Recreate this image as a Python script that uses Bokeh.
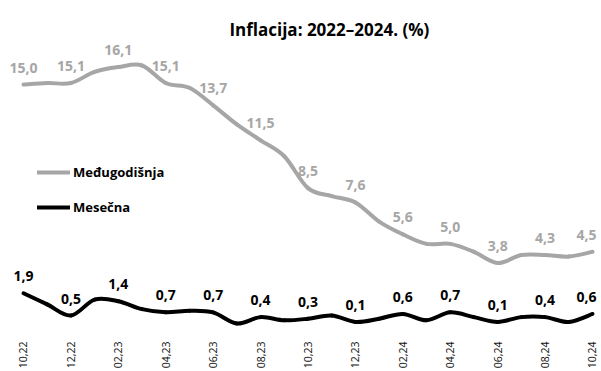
import math

from bokeh.embed import file_html
from bokeh.models import ColumnDataSource, FixedTicker, Label, Legend, LegendItem, Range1d
from bokeh.plotting import figure
from bokeh.resources import INLINE

# Monthly periods (mm,yy)
months = ["10,22", "11,22", "12,22", "01,23", "02,23", "03,23", "04,23", "05,23",
          "06,23", "07,23", "08,23", "09,23", "10,23", "11,23", "12,23", "01,24",
          "02,24", "03,24", "04,24", "05,24", "06,24", "07,24", "08,24", "09,24",
          "10,24"]

# Year-over-year inflation, %
yoy = [15.0, 15.1, 15.1, 15.8, 16.1, 16.2, 15.1, 14.8, 13.7, 12.5, 11.5, 10.5,
       8.5, 8.0, 7.6, 6.4, 5.6, 5.0, 5.0, 4.5, 3.8, 4.3, 4.3, 4.2, 4.5]

# Month-over-month inflation, %
mom = [1.9, 1.2, 0.5, 1.5, 1.4, 0.9, 0.7, 0.8, 0.7, 0.0, 0.4, 0.2,
       0.3, 0.5, 0.1, 0.3, 0.6, 0.2, 0.7, 0.4, 0.1, 0.4, 0.4, 0.1, 0.6]

series_names = ["Međugodišnja", "Mesečna"]
title_text = "Inflacija: 2022–2024. (%)"

GRAY = "#a6a6a6"
BLACK = "#000000"
FONT = "Open Sans"

xs = list(range(len(months)))


def smooth_segments(x, y):
    """Catmull-Rom style cubic Bezier segments passing through every point."""
    n = len(x)
    seg = dict(x0=[], y0=[], x1=[], y1=[], cx0=[], cy0=[], cx1=[], cy1=[])
    for i in range(n - 1):
        a = max(i - 1, 0)
        d = min(i + 2, n - 1)
        seg["x0"].append(x[i])
        seg["y0"].append(y[i])
        seg["x1"].append(x[i + 1])
        seg["y1"].append(y[i + 1])
        seg["cx0"].append(x[i] + (x[i + 1] - x[a]) / 6)
        seg["cy0"].append(y[i] + (y[i + 1] - y[a]) / 6)
        seg["cx1"].append(x[i + 1] - (x[d] - x[i]) / 6)
        seg["cy1"].append(y[i + 1] - (y[d] - y[i]) / 6)
    return ColumnDataSource(seg)


p = figure(width=601, height=371, output_backend="svg", toolbar_location=None,
           x_range=Range1d(-0.97, 24.38), y_range=Range1d(-0.44, 20.28),
           min_border_left=0, min_border_right=0, min_border_top=0,
           min_border_bottom=41)
p.outline_line_color = None
p.grid.visible = False
p.yaxis.visible = False
p.background_fill_color = "white"
p.border_fill_color = "white"

# smoothed lines
line_renderers = []
for vals, color in ((yoy, GRAY), (mom, BLACK)):
    r = p.bezier(x0="x0", y0="y0", x1="x1", y1="y1", cx0="cx0", cy0="cy0",
                 cx1="cx1", cy1="cy1", source=smooth_segments(xs, vals),
                 line_color=color, line_width=4, line_cap="round")
    line_renderers.append(r)

# value labels every second month (the last one nudged inside the canvas)
lab_idx = xs[::2]
for vals, color in ((yoy, GRAY), (mom, BLACK)):
    src = ColumnDataSource(dict(
        x=lab_idx,
        y=[vals[i] for i in lab_idx],
        t=[f"{vals[i]:.1f}".replace(".", ",") for i in lab_idx],
        dx=[-6 if i == lab_idx[-1] else 0 for i in lab_idx],
    ))
    p.text(x="x", y="y", text="t", source=src, text_align="center",
           text_baseline="bottom", x_offset="dx", y_offset=-12,
           text_color=color, text_font={"value": FONT},
           text_font_style="bold", text_font_size="14px")

# x axis: every second month, vertical labels
ax = p.xaxis[0]
ax.ticker = FixedTicker(ticks=lab_idx)
ax.major_label_overrides = {i: months[i] for i in lab_idx}
ax.major_label_orientation = math.pi / 2
ax.axis_line_color = None
ax.major_tick_line_color = None
ax.minor_tick_line_color = None
ax.major_label_standoff = 5
ax.major_label_text_font = FONT
ax.major_label_text_font_size = "10.5px"
ax.major_label_text_color = "#111111"

# legend
legend = Legend(items=[LegendItem(label=series_names[0], renderers=[line_renderers[0]]),
                       LegendItem(label=series_names[1], renderers=[line_renderers[1]])],
                location=(37, 113), orientation="vertical",
                glyph_width=33, glyph_height=20, label_height=20,
                spacing=15, padding=0, margin=0, label_standoff=3,
                background_fill_alpha=0, border_line_alpha=0,
                label_text_font=FONT, label_text_font_style="bold",
                label_text_font_size="13px", label_text_color="#000000")
p.add_layout(legend, "center")

# chart title
p.add_layout(Label(x=12.9, y=18.46, text=title_text, text_align="center",
                   text_baseline="alphabetic", text_font=FONT,
                   text_font_style="bold", text_font_size="17px",
                   text_color="#000000"))

open("out.html", "w").write(file_html(p, INLINE))
